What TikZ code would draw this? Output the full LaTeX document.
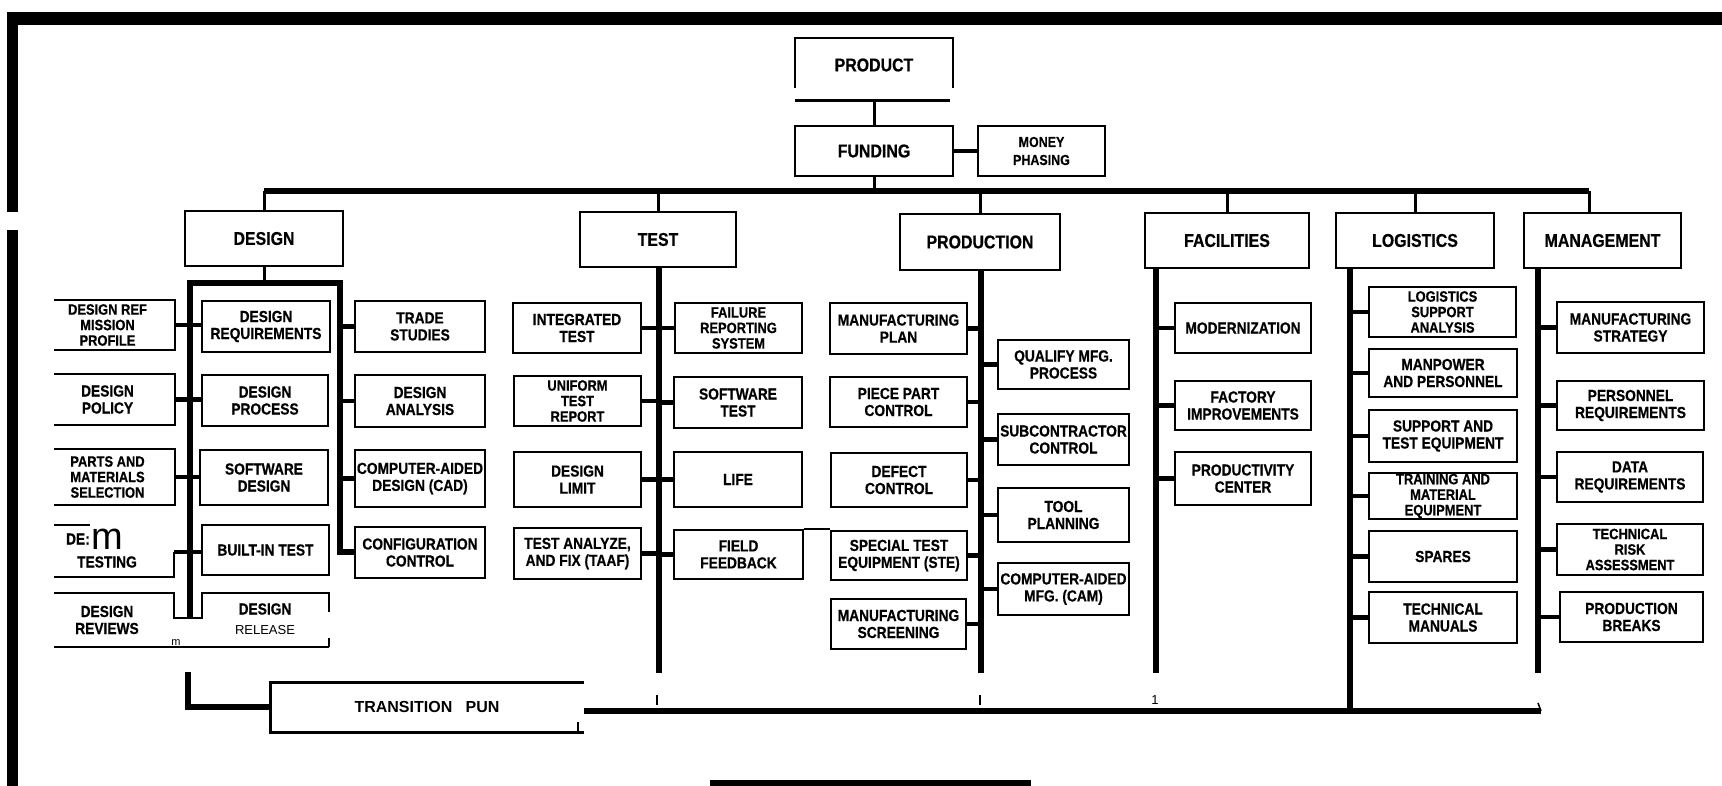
\documentclass[tikz,border=0pt]{standalone}
\usepackage{fontspec}
\newfontfamily\cnd[FakeStretch=0.86, BoldFeatures={FakeBold=0.5}]{Liberation Sans}
\newfontfamily\arl{Liberation Sans}
\newcommand\bx[7][box]{\node[#1, minimum width={(#5)-(#3)}, minimum height={(#6)-(#4)}] (#2) at ({((#3)+(#5))/2},{((#4)+(#6))/2}) {#7};}
\tikzset{
  box/.style={draw, line width=1.8pt, inner sep=1pt, align=center, font=\cnd\bfseries\fontsize{16}{17}\selectfont},
  sbox/.style={box, font=\cnd\bfseries\fontsize{15}{15.5}\selectfont},
  topbox/.style={box, font=\cnd\bfseries\fontsize{18.5}{20}\selectfont},
  nobox/.style={box, draw=none},
  lbl/.style={inner sep=0pt, align=center, font=\cnd\bfseries\fontsize{16}{17}\selectfont},
  bar/.style={line width=5.5pt},
  stub/.style={line width=4.5pt},
  drop/.style={line width=3pt},
  bus/.style={line width=6.5pt},
  edge/.style={line width=1.8pt},
  tick/.style={line width=1.5pt}
}
\begin{document}
\begin{tikzpicture}[x=1pt,y=-1pt]
\useasboundingbox (0,0) rectangle (1722,786);
\fill[white] (0,0) rectangle (1722,786);
% outer frame
\fill (7,12) rectangle (1722,25);
\fill (7,12) rectangle (18,212);
\fill (7,230) rectangle (18,786);
\fill (710,780) rectangle (1031,786);

% top
\bx[topbox,draw=none]{product}{795}{38}{953}{92}{PRODUCT}
\draw[edge] (795,88) -- (795,38) -- (953,38) -- (953,88);
\draw[line width=3pt] (795,101) -- (950,101);
\bx[topbox]{funding}{795}{126}{953}{176}{FUNDING}
\bx[box,font=\cnd\bfseries\fontsize{14.5}{18}\selectfont]{money}{978}{126}{1105}{176}{MONEY\\PHASING}
\draw[drop] (product.south |- 0,101) -- (funding.north);
\draw[stub] (funding.east) -- (money.west);

% main categories
\bx[topbox]{design}{185}{211}{343}{266}{DESIGN}
\bx[topbox]{test}{580}{212}{736}{267}{TEST}
\bx[topbox]{production}{900}{214}{1060}{270}{PRODUCTION}
\bx[topbox]{facilities}{1145}{213}{1309}{268}{FACILITIES}
\bx[topbox]{logistics}{1336}{213}{1494}{268}{LOGISTICS}
\bx[topbox]{management}{1524}{213}{1681}{268}{MANAGEMENT}

\coordinate (busL) at (264,191);
\coordinate (busR) at (1589,191);
\draw[bus] (busL) -- (busR);
\draw[drop] (funding.south) -- (funding.south |- busL);
\draw[drop] (busL) -- (design.north);
\draw[drop] (test.north |- busL) -- (test.north);
\draw[drop] (production.north |- busL) -- (production.north);
\draw[drop] (facilities.north |- busL) -- (facilities.north);
\draw[drop] (logistics.north |- busL) -- (logistics.north);
\draw[drop] (busR) -- (busR |- management.north);

% ---------- DESIGN ----------
\coordinate (dL) at (190,283);
\coordinate (dR) at (340,283);
\coordinate (dLb) at (190,618);
\coordinate (dRb) at (340,552);
\draw[drop] (design.south) -- (design.south |- dL);
\bx{dreq}{202}{301}{330}{352}{DESIGN\\REQUIREMENTS}
\bx{dproc}{202}{375}{328}{426}{DESIGN\\PROCESS}
\bx{dsw}{200}{450}{328}{505}{SOFTWARE\\DESIGN}
\bx{dbit}{202}{525}{329}{575}{BUILT-IN TEST}
\bx{trade}{355}{301}{485}{352}{TRADE\\STUDIES}
\bx{dana}{355}{375}{485}{427}{DESIGN\\ANALYSIS}
\bx{cad}{355}{450}{485}{507}{COMPUTER-AIDED\\DESIGN (CAD)}
\bx{config}{355}{527}{485}{578}{CONFIGURATION\\CONTROL}
\begin{scope}
\clip (54,290) rectangle (186,515);
\bx[sbox]{dref}{40}{300}{175}{350}{DESIGN REF\\MISSION\\PROFILE}
\bx{dpol}{40}{374}{175}{425}{DESIGN\\POLICY}
\bx[sbox]{dparts}{40}{449}{175}{505}{PARTS AND\\MATERIALS\\SELECTION}
\end{scope}
\draw[bar] (dLb) -- (dL) -- (dR) -- (dRb) -- (config.west |- dRb);
\draw[stub] (dref.east) -- (dref.east -| dreq.west);
\draw[stub] (dpol.east) -- (dpol.east -| dproc.west);
\draw[stub] (dparts.east) -- (dparts.east -| dsw.west);
\draw[stub] (trade.west) -- (trade.west -| dR);
\draw[stub] (dana.west) -- (dana.west -| dR);
\draw[stub] (cad.west) -- (cad.west -| dR);
% design for testing (damaged print)
\coordinate (dtE) at (174,552);
\draw[edge] (54,525) -- (90,525);
\draw[edge] (dtE) -- (174,577) -- (54,577);
\draw[stub] (dtE) -- (dtE -| dbit.west);
\node[lbl, anchor=east] (dtA) at (90,539) {DE:};
\node[inner sep=0pt, anchor=base west] (dtM) at (91,549) {\arl\fontsize{38}{38}\selectfont m};
\node[lbl] (dtB) at (107,562) {TESTING};
% design reviews / release
\draw[edge] (54,593) -- (174,593) -- (174,618) -- (202,618) -- (202,593) -- (329,593) -- (329,612);
\draw[edge] (54,647) -- (329,647);
\draw[tick] (329,638) -- (329,647);
\node[lbl] (drev) at (107,620) {DESIGN\\REVIEWS};
\node[lbl] (drel) at (265,609) {DESIGN};
\node[inner sep=0pt] (drel2) at (265,630) {\arl\fontsize{13}{14}\selectfont RELEASE};
\node[inner sep=0pt, anchor=base] (smallm) at (176,645) {\arl\fontsize{11}{11}\selectfont m};

% transition plan
\bx[nobox]{trans}{270}{682}{584}{732}{\arl\bfseries\fontsize{16}{17}\selectfont TRANSITION\ \ \ PUN}
\coordinate (tcA) at (188,672);
\draw[bar] (tcA) |- (trans.west);
\draw[line width=3pt] (584,682) -- (270,682) -- (270,732) -- (584,732);
\draw[tick] (578,722) -- (578,732);
\coordinate (bbL) at (584,711);
\coordinate (bbR) at (1541,711);
\draw[bus] (bbL) -- (bbR);

% ---------- TEST ----------
\coordinate (tbar) at (659,267);
\coordinate (tbarE) at (659,673);
\draw[bar] (tbar) -- (tbarE);
\bx{integ}{513}{303}{641}{353}{INTEGRATED\\TEST}
\bx[sbox]{uniform}{514}{376}{641}{426}{UNIFORM\\TEST\\REPORT}
\bx{dlimit}{514}{452}{641}{507}{DESIGN\\LIMIT}
\bx{taaf}{514}{528}{641}{579}{TEST ANALYZE,\\AND FIX (TAAF)}
\bx[sbox]{frs}{675}{303}{802}{353}{FAILURE\\REPORTING\\SYSTEM}
\bx{swtest}{674}{377}{802}{428}{SOFTWARE\\TEST}
\bx{life}{674}{452}{802}{507}{LIFE}
\bx{field}{674}{530}{803}{579}{FIELD\\FEEDBACK}
\foreach \n in {integ,uniform,dlimit,taaf} {\draw[stub] (\n.east) -- (\n.east -| tbar);}
\foreach \n in {frs,swtest,life,field} {\draw[stub] (\n.west) -- (\n.west -| tbar);}

% ---------- PRODUCTION ----------
\coordinate (pbar) at (981,270);
\coordinate (pbarE) at (981,673);
\draw[bar] (pbar) -- (pbarE);
\bx{mplan}{830}{303}{967}{354}{MANUFACTURING\\PLAN}
\bx{piece}{830}{377}{967}{427}{PIECE PART\\CONTROL}
\bx{defect}{831}{453}{967}{507}{DEFECT\\CONTROL}
\bx{ste}{831}{531}{967}{580}{SPECIAL TEST\\EQUIPMENT (STE)}
\bx{mscreen}{831}{599}{966}{649}{MANUFACTURING\\SCREENING}
\bx{qualify}{998}{340}{1129}{389}{QUALIFY MFG.\\PROCESS}
\bx{subc}{998}{414}{1129}{465}{SUBCONTRACTOR\\CONTROL}
\bx{tool}{998}{488}{1129}{542}{TOOL\\PLANNING}
\bx{cam}{998}{563}{1129}{615}{COMPUTER-AIDED\\MFG. (CAM)}
\draw[edge] (field.north east) -- (field.north east -| ste.west);
\foreach \n in {mplan,piece,defect,ste,mscreen} {\draw[stub] (\n.east) -- (\n.east -| pbar);}
\foreach \n in {qualify,subc,tool,cam} {\draw[stub] (\n.west) -- (\n.west -| pbar);}

% ---------- FACILITIES ----------
\coordinate (fbar) at (1156,268);
\coordinate (fbarE) at (1156,673);
\draw[bar] (fbar) -- (fbarE);
\bx{modern}{1175}{303}{1311}{353}{MODERNIZATION}
\bx{factory}{1175}{381}{1311}{430}{FACTORY\\IMPROVEMENTS}
\bx{prodctr}{1175}{452}{1311}{505}{PRODUCTIVITY\\CENTER}
\foreach \n in {modern,factory,prodctr} {\draw[stub] (\n.west) -- (\n.west -| fbar);}

% ---------- LOGISTICS ----------
\coordinate (lbar) at (1350,268);
\coordinate (lbarE) at (1350,711);
\draw[bar] (lbar) -- (lbarE);
\bx[sbox]{lsa}{1369}{287}{1516}{337}{LOGISTICS\\SUPPORT\\ANALYSIS}
\bx{manp}{1369}{349}{1517}{397}{MANPOWER\\AND PERSONNEL}
\bx{suptest}{1369}{410}{1517}{462}{SUPPORT AND\\TEST EQUIPMENT}
\bx[sbox]{train}{1369}{473}{1517}{519}{TRAINING AND\\MATERIAL\\EQUIPMENT}
\bx{spares}{1369}{531}{1517}{582}{SPARES}
\bx{techman}{1369}{592}{1517}{643}{TECHNICAL\\MANUALS}
\foreach \n in {lsa,manp,suptest,train,spares,techman} {\draw[stub] (\n.west) -- (\n.west -| lbar);}

% ---------- MANAGEMENT ----------
\coordinate (mbar) at (1538,268);
\coordinate (mbarE) at (1538,673);
\draw[bar] (mbar) -- (mbarE);
\bx{mstrat}{1557}{302}{1704}{353}{MANUFACTURING\\STRATEGY}
\bx{persreq}{1557}{381}{1704}{430}{PERSONNEL\\REQUIREMENTS}
\bx{datareq}{1557}{452}{1703}{502}{DATA\\REQUIREMENTS}
\bx[sbox]{risk}{1557}{524}{1703}{575}{TECHNICAL\\RISK\\ASSESSMENT}
\bx{pbreaks}{1560}{592}{1703}{642}{PRODUCTION\\BREAKS}
\foreach \n in {mstrat,persreq,datareq,risk,pbreaks} {\draw[stub] (\n.west) -- (\n.west -| mbar);}

% ticks above bottom bus
\draw[tick] (657,695) -- (657,705);
\draw[tick] (980,695) -- (980,705);
\draw[tick] (1538,703) -- (bbR);
\node[inner sep=0pt] (one) at (1155,700) {\arl\fontsize{13}{13}\selectfont 1};
\end{tikzpicture}
\end{document}
